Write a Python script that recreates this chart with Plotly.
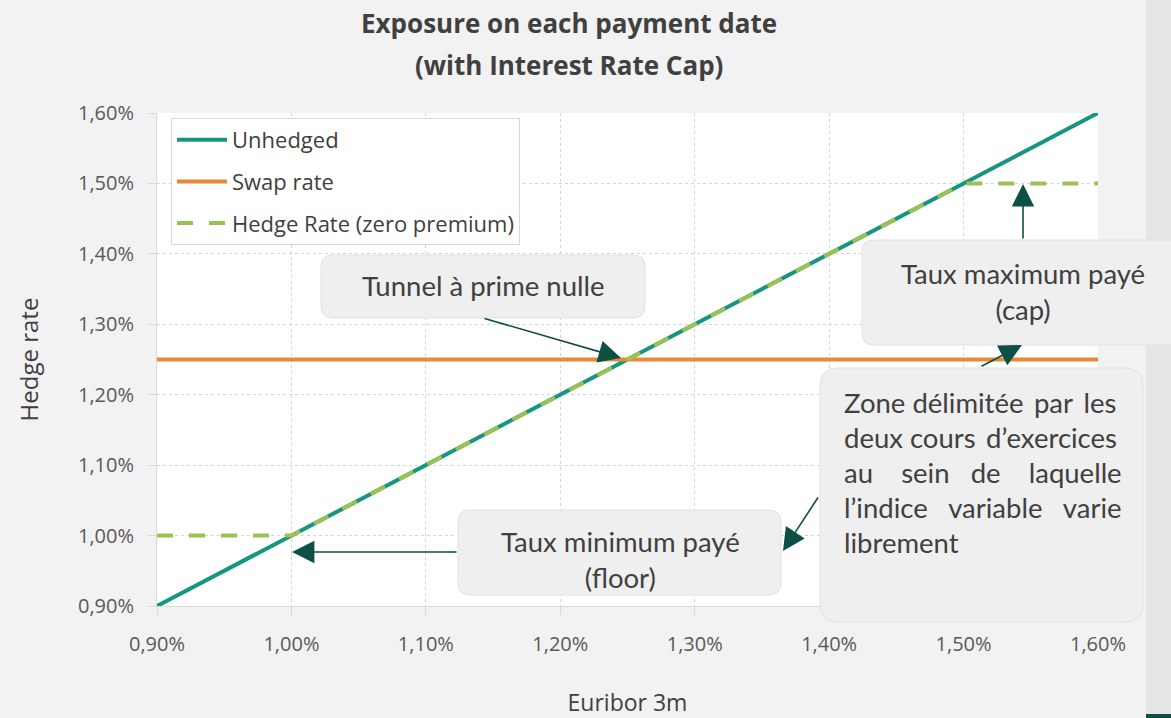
import plotly.graph_objects as go

# values (in %)
euribor = [0.90, 0.95, 1.00, 1.05, 1.10, 1.15, 1.20, 1.25, 1.30, 1.35, 1.40, 1.45, 1.50, 1.55, 1.60]
unhedged = [0.90, 0.95, 1.00, 1.05, 1.10, 1.15, 1.20, 1.25, 1.30, 1.35, 1.40, 1.45, 1.50, 1.55, 1.60]
swap_rate = [1.25, 1.25, 1.25, 1.25, 1.25, 1.25, 1.25, 1.25, 1.25, 1.25, 1.25, 1.25, 1.25, 1.25, 1.25]
hedge_rate = [1.00, 1.00, 1.00, 1.05, 1.10, 1.15, 1.20, 1.25, 1.30, 1.35, 1.40, 1.45, 1.50, 1.50, 1.50]
tick_vals = [0.90, 1.00, 1.10, 1.20, 1.30, 1.40, 1.50, 1.60]
tick_text = ["0,90%", "1,00%", "1,10%", "1,20%", "1,30%", "1,40%", "1,50%", "1,60%"]

W, H = 1171, 718
L, R, T, B = 157, 1098, 113, 606
TXT = "#404040"
ARROW = "#0b4f45"
BOXFONT = "Lato"
BOXSIZE = 27.5


def px(x):
    return (x - L) / (R - L)


def py(y):
    return (B - y) / (B - T)


def rounded_box(x0, y0, x1, y1, r=12):
    pts = [("M", x0 + r, y0), ("L", x1 - r, y0), ("Q", x1, y0, x1, y0 + r),
           ("L", x1, y1 - r), ("Q", x1, y1, x1 - r, y1), ("L", x0 + r, y1),
           ("Q", x0, y1, x0, y1 - r), ("L", x0, y0 + r), ("Q", x0, y0, x0 + r, y0)]
    out = []
    for p in pts:
        if p[0] == "Q":
            out.append(f"Q{px(p[1]):.5f},{py(p[2]):.5f} {px(p[3]):.5f},{py(p[4]):.5f}")
        else:
            out.append(f"{p[0]}{px(p[1]):.5f},{py(p[2]):.5f}")
    return dict(type="path", xref="paper", yref="paper", path=" ".join(out) + " Z",
                fillcolor="#efefef", line=dict(color="#e2e2e2", width=1), layer="above")


fig = go.Figure()
fig.add_trace(go.Scatter(x=euribor, y=unhedged, mode="lines", name="Unhedged", legendgroup="a",
                         line=dict(color="#16967f", width=4)))
fig.add_trace(go.Scatter(x=euribor, y=swap_rate, mode="lines", name="Swap rate", legendgroup="b",
                         line=dict(color="#e8893a", width=4)))
fig.add_trace(go.Scatter(x=euribor, y=hedge_rate, mode="lines", name="Hedge Rate (zero premium)",
                         legendgroup="c", line=dict(color="#9bc152", width=4, dash="16px,16px")))

shapes = [
    dict(type="rect", xref="paper", yref="paper", x0=px(1146), x1=px(1180), y0=py(-5), y1=py(725),
         fillcolor="#e6e6e6", line=dict(width=0), layer="below"),
    dict(type="rect", xref="paper", yref="paper", x0=px(1146), x1=px(1180), y0=py(714), y1=py(725),
         fillcolor=ARROW, line=dict(width=0), layer="below"),
    rounded_box(321, 255, 645, 318),
    rounded_box(862, 240, 1190, 345),
    rounded_box(820, 368, 1143, 622, 18),
    rounded_box(458, 510, 781, 595),
]

box_font = dict(size=BOXSIZE, family=BOXFONT)
annotations = [
    dict(text="<b>Exposure on each payment date</b>", x=px(569), y=py(23), font=dict(size=26)),
    dict(text="<b>(with Interest Rate Cap)</b>", x=px(569), y=py(65), font=dict(size=26)),
    dict(text="Tunnel à prime nulle", x=px(483), y=py(285), font=dict(box_font)),
    dict(text="Taux maximum payé<br>(cap)", x=px(1023), y=py(291), font=dict(box_font)),
    dict(text="Taux minimum payé<br>(floor)", x=px(620), y=py(559), font=dict(box_font)),
]
# justified paragraph, emulated with extra spaces
zone_lines = ["Zone délimitée\u2009 par\u2009 les", "deux cours\u2009 d’exercices",
              "au    sein   de    laquelle", "l’indice   variable   varie", "librement"]
for i, line in enumerate(zone_lines):
    annotations.append(dict(text=line, x=px(842), y=py(402 + 35 * i), xanchor="left",
                            font=dict(box_font)))

for a in annotations:
    a["font"].setdefault("color", TXT)
    a.update(xref="paper", yref="paper", showarrow=False)
    a.setdefault("xanchor", "center")
    a.setdefault("yanchor", "middle")

# arrows: (tail px, head px)
arrows = [((483, 318), (621, 358)), ((1023, 240), (1023, 184)), ((980, 367), (1022, 345)),
          ((819, 496), (783, 551)), ((458, 552), (292, 552))]
for (tx, ty), (hx, hy) in arrows:
    annotations.append(dict(xref="paper", yref="paper", x=px(hx), y=py(hy), text="", showarrow=True,
                            ax=tx - hx, ay=ty - hy, arrowhead=2, arrowsize=2.8, arrowwidth=1.6,
                            arrowcolor=ARROW, standoff=0, startstandoff=0))

axis_common = dict(range=[0.9, 1.6], tickvals=tick_vals, ticktext=tick_text, automargin=False,
                   showgrid=True, gridcolor="#d4d4d4", griddash="dot", gridwidth=1,
                   showline=True, linecolor="#d9d9d9", linewidth=1, zeroline=False,
                   ticks="outside", ticklen=8, tickcolor="#d9d9d9",
                   tickfont=dict(size=20, color="#595959"))

fig.update_layout(
    width=W, height=H,
    margin=dict(l=L, r=W - R, t=T, b=H - B, pad=0, autoexpand=False),
    paper_bgcolor="#f2f2f2", plot_bgcolor="white",
    font=dict(family="Open Sans", color=TXT),
    xaxis=dict(axis_common, title=dict(text="Euribor 3m", font=dict(size=23, color=TXT), standoff=52),
               ticklabelstandoff=12),
    yaxis=dict(axis_common, title=dict(text="Hedge rate", font=dict(size=24, color=TXT), standoff=32),
               ticklabelstandoff=10),
    legend=dict(x=px(171), y=py(118), xanchor="left", yanchor="top", bgcolor="white",
                bordercolor="#d9d9d9", borderwidth=1, font=dict(size=22, color=TXT),
                traceorder="grouped", tracegroupgap=10, itemwidth=50),
    shapes=shapes, annotations=annotations,
)

fig.write_html("out.html", config={"displayModeBar": False},
               post_script="document.body.style.margin='0';")
